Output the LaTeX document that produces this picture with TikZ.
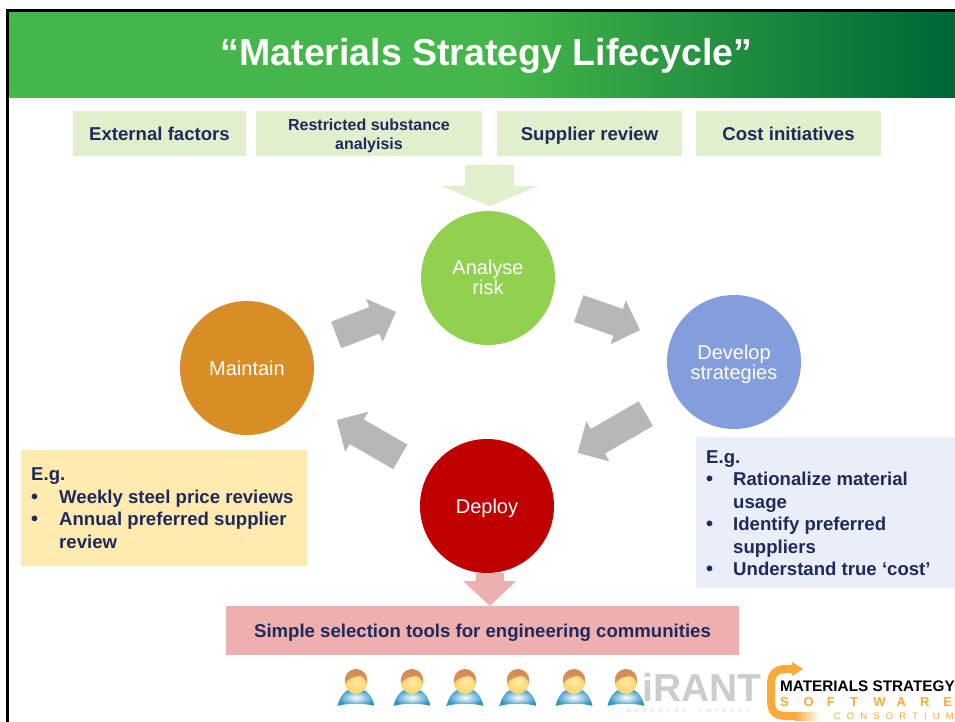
\documentclass[tikz,border=0pt]{standalone}
\usepackage{fontspec}
\setmainfont{Liberation Sans}
\usetikzlibrary{shapes.arrows,shapes.geometric}
\definecolor{navy}{HTML}{1F2A5C}
\definecolor{lgreen}{HTML}{E0EFCC}
\definecolor{grayarrow}{HTML}{B7B7B7}
\definecolor{gA}{HTML}{45B649}
\definecolor{gB}{HTML}{006837}
\definecolor{orangeL}{HTML}{FAA93A}
\definecolor{hairC}{HTML}{CF7F4E}
\definecolor{faceC}{HTML}{FBE27E}
\definecolor{bodyC}{HTML}{2F95C6}
\tikzset{
  topbox/.style={fill=lgreen,minimum height=45pt,inner sep=0pt,text=navy,align=center,font=\bfseries\fontsize{18.6}{21}\selectfont},
  oneline/.style={text height=15pt,text depth=0pt},
  stage/.style={circle,minimum size=134pt,inner sep=0pt,text=white,align=center,font=\fontsize{20}{20}\selectfont},
  flow/.style={single arrow,fill=grayarrow,anchor=tail,single arrow tip angle=90,single arrow head extend=9pt,inner sep=0pt,minimum width=0pt,text width=0pt},
  notetext/.style={text=navy,font=\bfseries\fontsize{18.6}{22.5}\selectfont,align=left,anchor=north west,inner sep=0pt},
  bulletmark/.style={text=navy,font=\bfseries\fontsize{20}{20}\selectfont,anchor=base west,inner sep=0pt},
}
\newcommand{\personicon}[1]{%
  \begin{scope}[shift={(#1,0)}]
    \shade[inner color=white,outer color=bodyC] (-18.5,706) .. controls (-16,695) and (-10,690) .. (-5,689) -- (5,689) .. controls (10,690) and (16,695) .. (18.5,706) .. controls (10,703) and (-10,703) .. (-18.5,706) -- cycle;
    \shade[inner color=faceC!70!white,outer color=faceC!85!orange] (0,682) ellipse (11pt and 12pt);
    \shade[top color=hairC,bottom color=hairC!70!faceC] (-11,684) .. controls (-14,664) and (14,664) .. (11,684) .. controls (9,678) and (6,676) .. (3,676) .. controls (0,677) and (-7,677) .. (-11,684) -- cycle;
  \end{scope}}
\begin{document}
\begin{tikzpicture}[x=1pt,y=-1pt]
\useasboundingbox (0,0) rectangle (955,722);
\fill[white] (0,0) rectangle (955,722);
% header
\fill[gA] (9,11) rectangle (500,98);
\shade[left color=gA,right color=gB] (500,11) rectangle (945,98);
\fill[gB] (945,11) rectangle (955,98);
\draw[black,line width=3pt] (7.5,722) -- (7.5,11) -- (955,11);
\node[text=white,font=\bfseries\fontsize{37.5}{40}\selectfont,inner sep=0pt] (title) at (486.5,56) {“Materials Strategy Lifecycle”};
% top boxes
\node[topbox,oneline,minimum width=173pt] (ext) at (159.5,133.5) {External factors};
\node[topbox,minimum width=226pt,font=\bfseries\fontsize{16}{19}\selectfont] (rest) at (369,133.5) {\rule{0pt}{16pt}Restricted substance\\analyisis};
\node[topbox,oneline,minimum width=185pt] (sup) at (589.5,133.5) {Supplier review};
\node[topbox,oneline,minimum width=185pt] (cost) at (788.5,133.5) {Cost initiatives};
\fill[lgreen] (465,165) -- (514,165) -- (514,186) -- (538,186) -- (490,206) -- (441,186) -- (465,186) -- cycle;
% stages
\node[stage,fill={rgb,255:red,146;green,208;blue,80}] (analyse) at (488,278) {Analyse\\risk\rule[-2pt]{0pt}{2pt}};
\node[stage,fill={rgb,255:red,132;green,157;blue,220}] (develop) at (734,362) {\rule{0pt}{19pt}Develop\\strategies};
\node[stage,fill={rgb,255:red,192;green,0;blue,0},text height=14pt,text depth=0pt] (deploy) at (487,506) {Deploy};
\node[stage,fill={rgb,255:red,217;green,141;blue,38}] (maintain) at (247,368) {Maintain};
% arrows
\node[flow,rotate=21,minimum height=64pt] (a1) at (336,335) {\rule{0pt}{28pt}};
\node[flow,rotate=-19.3,minimum height=65pt] (a2) at (578.5,308.5) {\rule{0pt}{28pt}};
\node[flow,rotate=210,minimum height=78.6pt] (a3) at (646,413.5) {\rule{0pt}{28pt}};
\node[flow,rotate=150,minimum height=73.5pt] (a4) at (400.5,457) {\rule{0pt}{28pt}};
% pink
\fill[fill={rgb,255:red,236;green,176;blue,176}] (476,573) -- (504,573) -- (504,581) -- (516,581) -- (490,606) -- (463,581) -- (476,581) -- cycle;
\node[fill={rgb,255:red,238;green,175;blue,175},minimum width=513pt,minimum height=49pt,inner sep=0pt,text=navy,font=\bfseries\fontsize{18.6}{21}\selectfont,text height=14pt,text depth=0pt] (tools) at (482.5,630.5) {Simple selection tools for engineering communities};
% notes
\node[fill={rgb,255:red,255;green,235;blue,175},minimum width=286pt,minimum height=116pt,inner sep=0pt] (noteL) at (164,507.5) {};
\node[notetext] at (31,467) {E.g.};
\node[bulletmark] at (31,503.5) {•};
\node[notetext] at (59,490) {Weekly steel price reviews};
\node[bulletmark] at (31,525.5) {•};
\node[notetext] at (59,512) {Annual preferred supplier\\review};
\node[fill={rgb,255:red,233;green,238;blue,248},minimum width=259pt,minimum height=151pt,inner sep=0pt] (noteR) at (825.5,512) {};
\node[notetext] at (706,450) {E.g.};
\node[bulletmark] at (706,485.5) {•};
\node[notetext] at (733,472) {Rationalize material\\usage};
\node[bulletmark] at (706,530.5) {•};
\node[notetext] at (733,517) {Identify preferred\\suppliers};
\node[bulletmark] at (706,575.5) {•};
\node[notetext] at (733,562) {Understand true ‘cost’};
% people
\personicon{356}\personicon{412}\personicon{465}\personicon{518}\personicon{574}\personicon{626}
% logos
\node[text=gray!40,font=\bfseries\fontsize{39}{40}\selectfont,inner sep=0pt] (irant) at (702,687) {iRANT};
\node[text=gray!35,font=\fontsize{5.5}{7}\selectfont,inner sep=0pt] (irants) at (689,711) {\makebox[8pt]{M}\makebox[8pt]{A}\makebox[8pt]{T}\makebox[8pt]{E}\makebox[8pt]{R}\makebox[8pt]{I}\makebox[8pt]{A}\makebox[8pt]{L}\makebox[8pt]{}\makebox[8pt]{I}\makebox[8pt]{N}\makebox[8pt]{T}\makebox[8pt]{E}\makebox[8pt]{L}\makebox[8pt]{L}\makebox[8pt]{I}};
\draw[orangeL,line width=8pt] (795,716) -- (786,716) .. controls (774,716) and (771,710) .. (771,700) -- (771,684) .. controls (771,674) and (776,669) .. (786,669) -- (793,669);
\shade[left color=orangeL,right color=white] (795,712) rectangle (820,720);
\fill[orangeL] (792,662) -- (803,669) -- (792,676) -- cycle;
\node[text=black,font=\bfseries\fontsize{15.3}{16}\selectfont,inner sep=0pt,anchor=west] (mss) at (780,686) {MATERIALS STRATEGY};
\node[text=orangeL,font=\bfseries\fontsize{13}{16}\selectfont,inner sep=0pt,anchor=west] (msw) at (780,702) {\makebox[23.3pt][l]{S}\makebox[23.3pt][l]{O}\makebox[23.3pt][l]{F}\makebox[23.3pt][l]{T}\makebox[23.3pt][l]{W}\makebox[23.3pt][l]{A}\makebox[23.3pt][l]{R}E};
\node[text=orangeL,font=\fontsize{9.5}{10}\selectfont,inner sep=0pt,anchor=east] (msc) at (954,716) {C\hspace{6.1pt}O\hspace{6.1pt}N\hspace{6.1pt}S\hspace{6.1pt}O\hspace{6.1pt}R\hspace{6.1pt}T\hspace{6.1pt}I\hspace{6.1pt}U\hspace{6.1pt}M};
\end{tikzpicture}
\end{document}
